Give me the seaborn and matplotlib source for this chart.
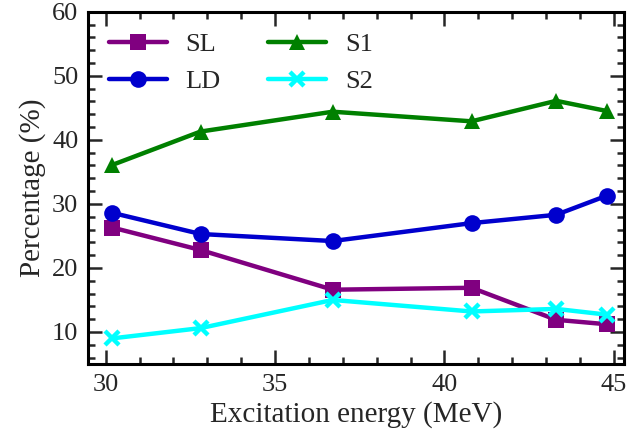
import pandas as pd
import numpy as np
import matplotlib
matplotlib.use('Agg')
import matplotlib.pyplot as plt
import seaborn as sns
from matplotlib.ticker import MultipleLocator

energy = [30.2, 32.8, 36.7, 40.8, 43.3, 44.8]
sl = [26.3, 22.8, 16.6, 16.9, 11.9, 11.2]
ld = [28.6, 25.3, 24.2, 27.0, 28.3, 31.3]
s1 = [36.1, 41.3, 44.4, 42.9, 46.1, 44.5]
s2 = [9.0, 10.6, 15.0, 13.2, 13.6, 12.7]

names = ['SL', 'LD', 'S1', 'S2']
colors = {'SL': '#800080', 'LD': '#0000CD', 'S1': '#008000', 'S2': '#00FFFF'}
markers = {'SL': 's', 'LD': 'o', 'S1': '^', 'S2': 'x'}

frames = []
for name, vals in zip(names, [sl, ld, s1, s2]):
    frames.append(pd.DataFrame({'Energy': energy, 'Percent': vals, 'Type': name}))
df = pd.concat(frames, ignore_index=True)

sns.set_style('ticks')
plt.rcParams['font.family'] = ['Liberation Serif', 'DejaVu Serif']

fig, ax = plt.subplots(figsize=(6.29, 4.38), dpi=100)
for name in names:
    sub = df[df['Type'] == name]
    sns.lineplot(data=sub, x='Energy', y='Percent', color=colors[name], marker=markers[name],
                 markersize=12 if name != 'S2' else 10, markeredgewidth=3.2 if name == 'S2' else 0,
                 markeredgecolor=colors[name], linewidth=3.2, label=name, ax=ax)

ax.set_xlim(29.48, 45.3)
ax.set_ylim(5, 60)
ax.xaxis.set_major_locator(MultipleLocator(5))
ax.xaxis.set_minor_locator(MultipleLocator(1))
ax.yaxis.set_major_locator(MultipleLocator(10))
ax.yaxis.set_minor_locator(MultipleLocator(2))
ax.tick_params(which='both', direction='in', top=True, right=True, width=1.8, labelsize=19)
ax.tick_params(which='major', length=10, pad=7)
ax.tick_params(which='minor', length=5)
for sp in ax.spines.values():
    sp.set_linewidth(2.2)
    sp.set_color('black')

ax.set_xlabel('Excitation energy (MeV)', fontsize=21)
ax.set_ylabel('Percentage (%)', fontsize=21)
ax.legend(ncol=2, frameon=False, loc='upper left', fontsize=19, handlelength=2.2,
          columnspacing=1.8, borderaxespad=0.4, labelspacing=0.5, handletextpad=0.7)

fig.subplots_adjust(left=0.14, right=0.992, top=0.973, bottom=0.169)
plt.savefig('out.png', dpi=100)
plt.close()
